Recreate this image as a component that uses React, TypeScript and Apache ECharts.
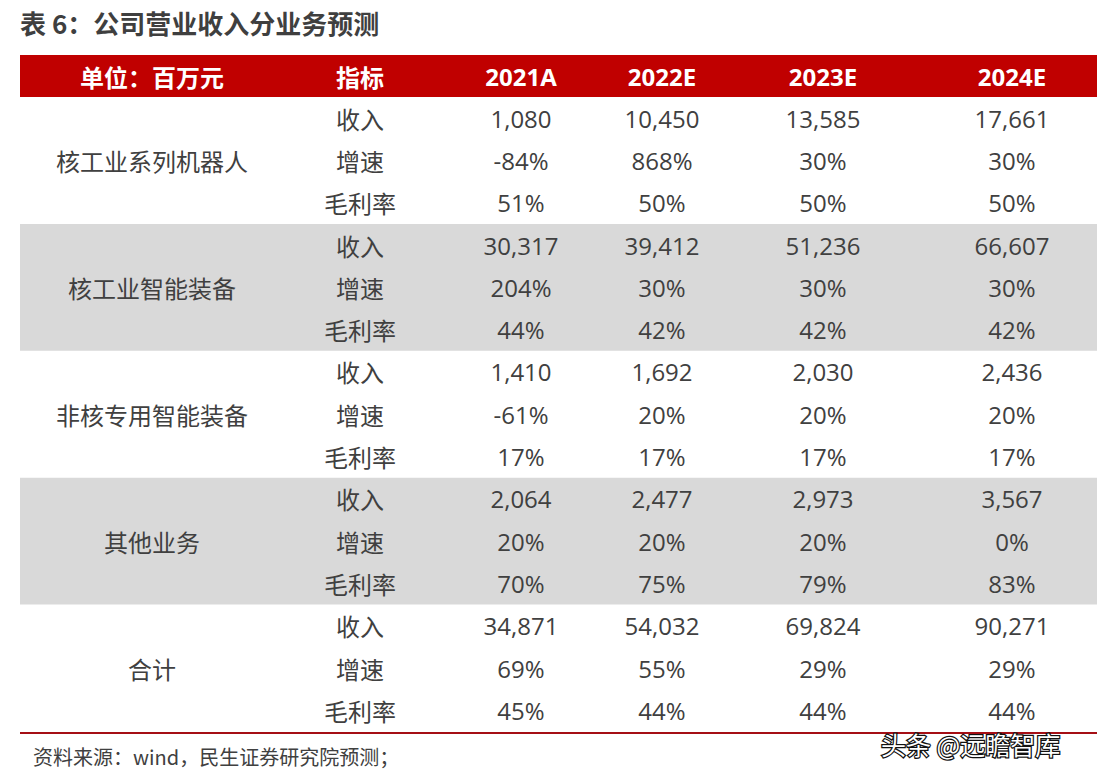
import React, { useEffect, useRef } from "react";
import * as echarts from "echarts";

const titleText = "表 6：公司营业收入分业务预测";
const headerLabels = ["单位：百万元", "指标", "2021A", "2022E", "2023E", "2024E"];
const segments = ["核工业系列机器人", "核工业智能装备", "非核专用智能装备", "其他业务", "合计"];
const metrics = ["收入", "增速", "毛利率"];

const robotRevenue = [1080, 10450, 13585, 17661];
const robotGrowth = [-84, 868, 30, 30];
const robotMargin = [51, 50, 50, 50];

const equipRevenue = [30317, 39412, 51236, 66607];
const equipGrowth = [204, 30, 30, 30];
const equipMargin = [44, 42, 42, 42];

const nonNuclearRevenue = [1410, 1692, 2030, 2436];
const nonNuclearGrowth = [-61, 20, 20, 20];
const nonNuclearMargin = [17, 17, 17, 17];

const otherRevenue = [2064, 2477, 2973, 3567];
const otherGrowth = [20, 20, 20, 0];
const otherMargin = [70, 75, 79, 83];

const totalRevenue = [34871, 54032, 69824, 90271];
const totalGrowth = [69, 55, 29, 29];
const totalMargin = [45, 44, 44, 44];

const sourceText = "资料来源：wind，民生证券研究院预测；";
const watermarkText = "头条 @远瞻智库";

const segmentData = [
  [robotRevenue, robotGrowth, robotMargin],
  [equipRevenue, equipGrowth, equipMargin],
  [nonNuclearRevenue, nonNuclearGrowth, nonNuclearMargin],
  [otherRevenue, otherGrowth, otherMargin],
  [totalRevenue, totalGrowth, totalMargin],
];

const fmtNum = (v: number) => v.toLocaleString("en-US");
const fmtPct = (v: number) => `${v}%`;

export default function App() {
  const ref = useRef<HTMLDivElement>(null);
  useEffect(() => {
    if (!ref.current) return;
    const chart = echarts.init(ref.current, undefined, { renderer: "svg" });
    const font = '"Noto Sans CJK SC", "Open Sans", sans-serif';
    const numFont = '"Open Sans", "Noto Sans CJK SC", sans-serif';
    const textColor = "#404040";
    const left = 20;
    const right = 1097;
    const headerTop = 55;
    const headerBottom = 97;
    const rowH = 42.3;
    const colX = [152, 360, 521, 662, 823, 1012];
    const els: any[] = [];

    els.push({
      type: "text",
      x: 20,
      y: 22,
      style: { text: titleText, fill: "#3f3f3f", font: `bold 26px ${font}`, verticalAlign: "middle" },
    });

    segments.forEach((_, g) => {
      if (g % 2 === 1) {
        els.push({
          type: "rect",
          shape: { x: left, y: headerBottom + g * 3 * rowH, width: right - left, height: 3 * rowH },
          style: { fill: "#D9D9D9" },
        });
      }
    });

    els.push({
      type: "rect",
      shape: { x: left, y: headerTop, width: right - left, height: headerBottom - headerTop },
      style: { fill: "#C00000" },
    });
    headerLabels.forEach((h, i) => {
      els.push({
        type: "text",
        x: colX[i],
        y: (headerTop + headerBottom) / 2,
        style: {
          text: h,
          fill: "#ffffff",
          font: `bold ${i >= 2 ? 24 : 24}px ${i >= 2 ? numFont : font}`,
          align: "center",
          verticalAlign: "middle",
        },
      });
    });

    segments.forEach((seg, g) => {
      const gTop = headerBottom + g * 3 * rowH;
      els.push({
        type: "text",
        x: colX[0],
        y: gTop + 1.5 * rowH,
        style: { text: seg, fill: textColor, font: `24px ${font}`, align: "center", verticalAlign: "middle" },
      });
      metrics.forEach((m, r) => {
        const cy = gTop + (r + 0.5) * rowH;
        els.push({
          type: "text",
          x: colX[1],
          y: cy,
          style: { text: m, fill: textColor, font: `24px ${font}`, align: "center", verticalAlign: "middle" },
        });
        segmentData[g][r].forEach((v, c) => {
          els.push({
            type: "text",
            x: colX[2 + c],
            y: cy,
            style: {
              text: r === 0 ? fmtNum(v) : fmtPct(v),
              fill: textColor,
              font: `24px ${numFont}`,
              align: "center",
              verticalAlign: "middle",
            },
          });
        });
      });
    });

    els.push({
      type: "line",
      shape: { x1: left, y1: 733, x2: right, y2: 733 },
      style: { stroke: "#A50F15", lineWidth: 2 },
    });

    els.push({
      type: "text",
      x: 33,
      y: 756,
      style: { text: sourceText, fill: textColor, font: `20px ${font}`, verticalAlign: "middle" },
    });

    els.push({
      type: "text",
      x: 881,
      y: 744,
      style: {
        text: watermarkText,
        fill: "#ffffff",
        stroke: "#111111",
        lineWidth: 2.5,
        font: `25px ${font}`,
        verticalAlign: "middle",
      },
    });

    chart.setOption({ animation: false, backgroundColor: "#ffffff", graphic: { elements: els } });
    return () => chart.dispose();
  }, []);
  return (
    <div
      ref={ref}
      style={{ position: "absolute", left: 0, top: 0, width: 1106, height: 781 }}
    />
  );
}
